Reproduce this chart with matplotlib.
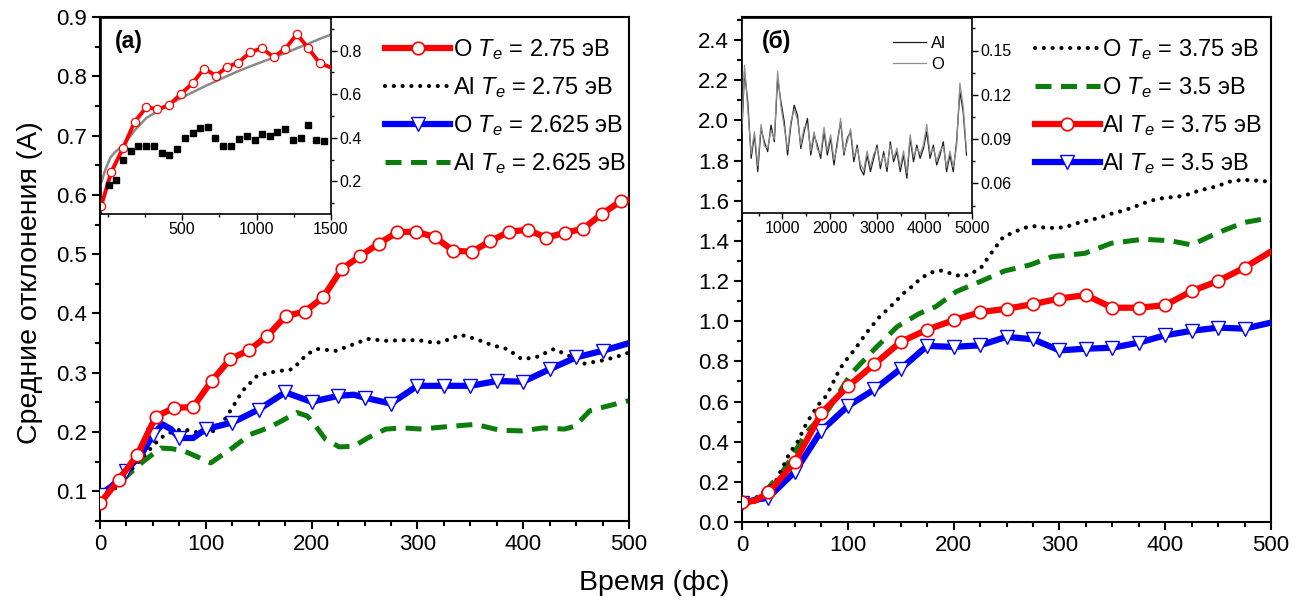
import numpy as np
import matplotlib
matplotlib.use("Agg")
import matplotlib.pyplot as plt
from matplotlib.ticker import MultipleLocator, FormatStrFormatter

plt.rcParams['font.family'] = ['Liberation Sans', 'DejaVu Sans']
plt.rcParams['mathtext.fontset'] = 'custom'
plt.rcParams['mathtext.it'] = 'Liberation Sans:italic'
plt.rcParams['mathtext.rm'] = 'Liberation Sans'

# ---------------- data: panel (a) ----------------
a_red_t = [0, 17.6, 35.1, 52.7, 70.3, 87.9, 105.4, 123.0, 140.6, 158.1, 175.7, 193.3,
           210.8, 228.4, 246.0, 263.6, 281.1, 298.7, 316.3, 333.8, 351.4, 369.0, 386.6,
           404.1, 421.7, 439.3, 456.8, 474.4, 492.0, 500]
a_red_v = [0.080, 0.119, 0.161, 0.226, 0.241, 0.242, 0.286, 0.323, 0.338, 0.362, 0.396,
           0.403, 0.427, 0.475, 0.497, 0.518, 0.537, 0.538, 0.529, 0.506, 0.504, 0.522,
           0.538, 0.541, 0.528, 0.536, 0.543, 0.568, 0.589, 0.592]

a_black_t = [0, 15, 30, 45.6, 57, 67.6, 77.7, 91, 105, 115, 125, 135, 148.6, 165.5, 182,
             196, 206, 223, 236.5, 253, 270, 287, 300.7, 317.6, 327.7, 341, 355, 371.6,
             385, 398.6, 412, 429, 443, 456, 473, 486.5, 500]
a_black_v = [0.090, 0.106, 0.137, 0.168, 0.190, 0.200, 0.205, 0.200, 0.199, 0.213, 0.241,
             0.270, 0.295, 0.302, 0.306, 0.332, 0.340, 0.337, 0.346, 0.357, 0.354, 0.355,
             0.355, 0.350, 0.355, 0.364, 0.357, 0.346, 0.340, 0.323, 0.326, 0.340, 0.329,
             0.315, 0.320, 0.326, 0.334]

a_blue_t = [0, 12, 25, 40, 50, 59, 67, 75, 88, 100, 125, 150, 175, 200, 225, 240, 250,
            275, 300, 325, 350, 375, 400, 425, 450, 475, 500]
a_blue_v = [0.094, 0.110, 0.135, 0.165, 0.195, 0.213, 0.205, 0.190, 0.190, 0.205, 0.216,
            0.238, 0.267, 0.251, 0.261, 0.263, 0.258, 0.248, 0.278, 0.278, 0.278, 0.286,
            0.285, 0.306, 0.326, 0.337, 0.350]

a_green_t = [0, 23.6, 40.5, 57.4, 67.6, 79.4, 91, 104.7, 125, 142, 158.8, 172, 186, 196,
             206, 213, 226, 240, 253, 270, 287, 304, 321, 341, 355, 378, 398.6, 419, 439,
             449, 463, 480, 500]
a_green_v = [0.094, 0.123, 0.150, 0.173, 0.172, 0.168, 0.159, 0.148, 0.173, 0.196, 0.207,
             0.219, 0.233, 0.227, 0.205, 0.188, 0.175, 0.176, 0.190, 0.205, 0.207, 0.205,
             0.208, 0.211, 0.213, 0.203, 0.202, 0.207, 0.205, 0.210, 0.236, 0.244, 0.253]

# inset (a)
ia_red_t = [-44, 23.6, 102, 181, 260, 334, 412, 491, 570, 648, 727, 801, 877, 958, 1035,
            1114, 1192, 1271, 1345, 1424, 1491]
ia_red_v = [0.087, 0.242, 0.351, 0.473, 0.541, 0.531, 0.549, 0.601, 0.650, 0.718, 0.685,
            0.725, 0.745, 0.793, 0.811, 0.771, 0.808, 0.876, 0.813, 0.743, 0.725]
ia_sq_t = [8, 52.8, 102, 154, 205.8, 259.6, 311, 363, 412, 464, 518, 570, 622, 672, 723,
           777, 829, 881, 935, 987, 1035, 1087, 1139, 1192, 1244, 1296, 1345, 1402, 1451]
ia_sq_v = [0.182, 0.205, 0.298, 0.340, 0.360, 0.360, 0.363, 0.328, 0.322, 0.348, 0.400,
           0.423, 0.443, 0.449, 0.398, 0.360, 0.363, 0.393, 0.408, 0.390, 0.419, 0.408,
           0.428, 0.441, 0.389, 0.401, 0.457, 0.390, 0.383]
ia_fit_t = [-40, -20, 0, 19, 50, 102, 181, 260, 334, 412, 491, 570, 648, 727, 801, 877,
            958, 1035, 1114, 1192, 1271, 1345, 1424, 1500]
ia_fit_v = [0.200, 0.245, 0.280, 0.310, 0.335, 0.363, 0.434, 0.491, 0.522, 0.552, 0.582,
            0.609, 0.635, 0.660, 0.683, 0.706, 0.728, 0.748, 0.768, 0.789, 0.811, 0.831,
            0.854, 0.874]

# ---------------- data: panel (б) ----------------
b_black_t = [0, 15.7, 31.4, 45.4, 52.3, 61, 71.5, 80, 92.5, 99.4, 106.4, 117.6, 130,
             138.5, 146.5, 151.8, 160.5, 169, 178, 188.4, 198.9, 208.3, 217, 226, 237,
             247, 266, 275, 286, 298, 307, 318, 329, 338, 348, 360, 370, 381, 392, 401,
             412, 423, 433, 442, 452, 461, 471, 480, 491, 500]
b_black_v = [0.075, 0.130, 0.197, 0.347, 0.397, 0.492, 0.580, 0.630, 0.763, 0.813, 0.858,
             0.942, 1.022, 1.063, 1.105, 1.135, 1.172, 1.213, 1.242, 1.252, 1.235, 1.222,
             1.238, 1.267, 1.350, 1.420, 1.464, 1.474, 1.466, 1.464, 1.471, 1.490, 1.504,
             1.515, 1.534, 1.550, 1.568, 1.590, 1.608, 1.615, 1.620, 1.633, 1.653, 1.662,
             1.678, 1.695, 1.703, 1.703, 1.698, 1.695]

b_green_t = [0, 20, 40, 61, 82, 103, 125.6, 146.5, 167.5, 183, 202.4, 225, 248, 272, 293,
             324, 349, 379, 404.5, 425, 448.6, 474, 496, 500]
b_green_v = [0.075, 0.140, 0.263, 0.447, 0.563, 0.738, 0.863, 0.972, 1.038, 1.072, 1.147,
             1.197, 1.250, 1.280, 1.321, 1.338, 1.388, 1.408, 1.401, 1.380, 1.438, 1.491,
             1.512, 1.505]

b_red_t = [0, 12, 25, 50, 75, 100, 125, 150, 175, 200, 225, 250, 275, 300, 325, 350, 375,
           400, 425, 450, 475, 500]
b_red_v = [0.100, 0.105, 0.147, 0.300, 0.542, 0.675, 0.785, 0.897, 0.958, 1.005, 1.045,
           1.062, 1.085, 1.113, 1.130, 1.067, 1.067, 1.080, 1.150, 1.200, 1.267, 1.347]

b_blue_t = [0, 25, 50, 75, 100, 125, 150, 175, 200, 225, 250, 275, 300, 325, 350, 375, 400,
            425, 450, 475, 500]
b_blue_v = [0.097, 0.122, 0.250, 0.455, 0.577, 0.660, 0.763, 0.877, 0.872, 0.880, 0.922,
            0.910, 0.855, 0.863, 0.868, 0.893, 0.930, 0.952, 0.968, 0.963, 0.993]

# inset (б)
ib_t = np.linspace(133, 4884, 69)
ib_al = [0.0837, 0.1355, 0.1152, 0.077, 0.0927, 0.068, 0.0972, 0.0882, 0.0815, 0.0995,
         0.0882, 0.131, 0.1152, 0.1017, 0.0792, 0.0995, 0.113, 0.1062, 0.0837, 0.095,
         0.104, 0.0792, 0.0927, 0.086, 0.077, 0.095, 0.0792, 0.0905, 0.0725, 0.0882,
         0.1017, 0.0792, 0.0905, 0.095, 0.0747, 0.086, 0.070, 0.0657, 0.0792, 0.068,
         0.077, 0.086, 0.070, 0.0815, 0.068, 0.0882, 0.0747, 0.0815, 0.068, 0.0792,
         0.0635, 0.0905, 0.0747, 0.086, 0.077, 0.0837, 0.095, 0.077, 0.086, 0.0725,
         0.0792, 0.0882, 0.068, 0.0792, 0.068, 0.0882, 0.122, 0.1085, 0.0792]
ib_o = [0.088, 0.140, 0.110, 0.080, 0.095, 0.072, 0.100, 0.085, 0.084, 0.096,
        0.090, 0.136, 0.112, 0.098, 0.083, 0.102, 0.110, 0.103, 0.086, 0.098,
        0.100, 0.082, 0.095, 0.083, 0.080, 0.098, 0.082, 0.093, 0.076, 0.085,
        0.104, 0.081, 0.088, 0.097, 0.078, 0.084, 0.073, 0.069, 0.082, 0.071,
        0.080, 0.084, 0.073, 0.079, 0.071, 0.086, 0.077, 0.084, 0.071, 0.082,
        0.067, 0.093, 0.078, 0.084, 0.080, 0.086, 0.100, 0.080, 0.084, 0.075,
        0.082, 0.085, 0.071, 0.082, 0.071, 0.085, 0.128, 0.112, 0.082]

labels_a = ['O $T_e$ = 2.75 эВ', 'Al $T_e$ = 2.75 эВ', 'O $T_e$ = 2.625 эВ', 'Al $T_e$ = 2.625 эВ']
labels_b = ['O $T_e$ = 3.75 эВ', 'O $T_e$ = 3.5 эВ', 'Al $T_e$ = 3.75 эВ', 'Al $T_e$ = 3.5 эВ']

RED, BLUE, GREEN = '#ff0000', '#0000ff', '#0a7d0a'

# ---------------- figure ----------------
fig = plt.figure(figsize=(13.09, 6.08), dpi=100)
W, H = 1309, 608
def rect(x0, y0, x1, y1):
    return [x0 / W, 1 - y1 / H, (x1 - x0) / W, (y1 - y0) / H]

ax1 = fig.add_axes(rect(100, 17, 629, 521))
ax2 = fig.add_axes(rect(742, 17, 1271, 522))

def style_main(ax):
    for s in ax.spines.values():
        s.set_linewidth(1.5)
    ax.tick_params(which='both', direction='out', width=1.5, labelsize=16,
                   top=False, right=False)
    ax.tick_params(which='major', length=6)
    ax.tick_params(which='minor', length=3.5)

dot_style = dict(color='black', lw=3.0, linestyle=(0, (0.01, 2.1)), dash_capstyle='round')
dash_style = dict(color=GREEN, lw=3.6, linestyle=(0, (3.2, 1.9)), dash_capstyle='butt')
leg_kw = dict(loc='upper right', frameon=False, fontsize=17,
              handlelength=2.75, handletextpad=0.1, labelspacing=0.55, borderaxespad=0.0,
              borderpad=0.15, numpoints=1)

# panel (a)
ax1.plot(a_green_t, a_green_v, label=labels_a[3], **dash_style, zorder=2)
ax1.plot(a_black_t, a_black_v, label=labels_a[1], **dot_style, zorder=3)
mk_blue_a = [i for i, t in enumerate(a_blue_t) if t % 25 == 0 and t < 500]
ax1.plot(a_blue_t, a_blue_v, color=BLUE, lw=4.5, marker='v', markevery=mk_blue_a, ms=10,
         mfc='white', mec=BLUE, mew=1.0, label=labels_a[2], zorder=4)
ax1.plot(a_red_t, a_red_v, color=RED, lw=4.5, marker='o', markevery=list(range(len(a_red_t) - 1)),
         ms=9, mfc='white', mec=RED, mew=1.2, label=labels_a[0], zorder=5)
ax1.set_xlim(0, 500)
ax1.set_ylim(0.05, 0.9)
ax1.xaxis.set_major_locator(MultipleLocator(100))
ax1.xaxis.set_minor_locator(MultipleLocator(25))
ax1.yaxis.set_major_locator(MultipleLocator(0.1))
ax1.yaxis.set_minor_locator(MultipleLocator(0.05))
ax1.yaxis.set_major_formatter(FormatStrFormatter('%.1f'))
style_main(ax1)
h, l = ax1.get_legend_handles_labels()
order = [l.index(x) for x in labels_a]
ax1.legend([h[i] for i in order], [l[i] for i in order], bbox_to_anchor=(1.0, 0.967),
           **leg_kw)

# panel (б)
ax2.plot(b_green_t, b_green_v, label=labels_b[1], **dash_style, zorder=2)
ax2.plot(b_black_t, b_black_v, label=labels_b[0], **dot_style, zorder=3)
ax2.plot(b_blue_t, b_blue_v, color=BLUE, lw=4.5, marker='v',
         markevery=list(range(len(b_blue_t) - 1)), ms=10, mfc='white', mec=BLUE, mew=1.0,
         label=labels_b[3], zorder=4)
mk_red_b = [i for i, t in enumerate(b_red_t) if t % 25 == 0 and t < 500]
ax2.plot(b_red_t, b_red_v, color=RED, lw=4.5, marker='o', markevery=mk_red_b, ms=9,
         mfc='white', mec=RED, mew=1.2, label=labels_b[2], zorder=5)
ax2.set_xlim(0, 500)
ax2.set_ylim(0, 2.515)
ax2.xaxis.set_major_locator(MultipleLocator(100))
ax2.xaxis.set_minor_locator(MultipleLocator(25))
ax2.yaxis.set_major_locator(MultipleLocator(0.2))
ax2.yaxis.set_minor_locator(MultipleLocator(0.1))
ax2.yaxis.set_major_formatter(FormatStrFormatter('%.1f'))
style_main(ax2)
h, l = ax2.get_legend_handles_labels()
order = [l.index(x) for x in labels_b]
ax2.legend([h[i] for i in order], [l[i] for i in order], bbox_to_anchor=(0.9896, 0.967),
           **leg_kw)

# ---------------- insets ----------------
def style_inset(ax):
    for s in ax.spines.values():
        s.set_linewidth(1.2)
    ax.yaxis.tick_right()
    ax.tick_params(which='both', direction='out', width=1.0, labelsize=11.5,
                   left=False, top=False, right=True, bottom=True, pad=2)
    ax.tick_params(which='major', length=4)
    ax.tick_params(which='minor', length=2.5)

ins1 = fig.add_axes(rect(101, 18, 331, 214))
ins1.plot(ia_fit_t, ia_fit_v, color='#8a8a8a', lw=1.8, zorder=2)
ins1.plot(ia_red_t, ia_red_v, color=RED, lw=2.8, marker='o',
          markevery=list(range(len(ia_red_t) - 1)), ms=6, mfc='white', mec=RED, mew=0.9,
          zorder=3)
ins1.plot(ia_sq_t, ia_sq_v, linestyle='none', marker='s', ms=4.5, color='black', zorder=4)
ins1.set_xlim(-45, 1500)
ins1.set_ylim(0.05, 0.95)
ins1.set_xticks([500, 1000, 1500])
ins1.xaxis.set_minor_locator(MultipleLocator(250))
ins1.yaxis.set_major_locator(MultipleLocator(0.2))
ins1.yaxis.set_minor_locator(MultipleLocator(0.1))
ins1.yaxis.set_major_formatter(FormatStrFormatter('%.1f'))
style_inset(ins1)
ins1.text(0.06, 0.88, '(a)', transform=ins1.transAxes, fontsize=16.5, fontweight='bold',
          va='center', ha='left')

ins2 = fig.add_axes(rect(742, 18, 972, 213))
ins2.plot(ib_t, ib_al, color='#1e1e1e', lw=0.9, label='Al', zorder=2)
ins2.plot(ib_t, ib_o, color='#8f8f8f', lw=0.9, label='O', zorder=3)
ins2.set_xlim(150, 5000)
ins2.set_ylim(0.04, 0.172)
ins2.set_xticks([1000, 2000, 3000, 4000, 5000])
ins2.xaxis.set_minor_locator(MultipleLocator(500))
ins2.set_yticks([0.06, 0.09, 0.12, 0.15])
ins2.yaxis.set_minor_locator(MultipleLocator(0.015))
ins2.yaxis.set_major_formatter(FormatStrFormatter('%.2f'))
style_inset(ins2)
ins2.text(0.085, 0.88, '(б)', transform=ins2.transAxes, fontsize=16.5, fontweight='bold',
          va='center', ha='left')
ins2.legend(loc='upper right', bbox_to_anchor=(0.93, 0.96), frameon=False, fontsize=12,
            handlelength=2.0, handletextpad=0.3, labelspacing=0.35, borderaxespad=0.2)

# axis labels
fig.text(0.023, 0.535, 'Средние отклонения (A)', rotation=90, fontsize=20.5,
         ha='center', va='center')
fig.text(0.5, 0.041, 'Время (фс)', fontsize=20.5, ha='center', va='center')

fig.savefig('out.png', dpi=100)
